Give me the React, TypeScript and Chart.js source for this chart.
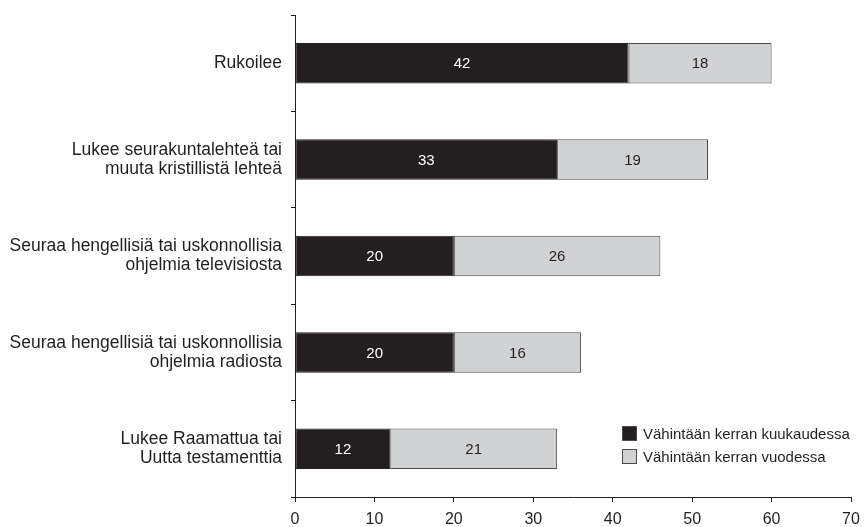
import React, { useEffect, useRef } from "react";
import { Chart, registerables } from "chart.js";

Chart.register(...registerables);

const categories: string[][] = [
  ["Rukoilee"],
  ["Lukee seurakuntalehteä tai", "muuta kristillistä lehteä"],
  ["Seuraa hengellisiä tai uskonnollisia", "ohjelmia televisiosta"],
  ["Seuraa hengellisiä tai uskonnollisia", "ohjelmia radiosta"],
  ["Lukee Raamattua tai", "Uutta testamenttia"],
];
const monthly: number[] = [42, 33, 20, 20, 12];
const yearly: number[] = [18, 19, 26, 16, 21];
const seriesNames: string[] = ["Vähintään kerran kuukaudessa", "Vähintään kerran vuodessa"];
const xTicks: number[] = [0, 10, 20, 30, 40, 50, 60, 70];

const TEXT = "#231f20";
const DARK = "#231f20";
const LIGHT = "#d1d2d4";
const EDGE = "#4a4a4a";
const FONT = "'Liberation Sans', Arial, sans-serif";

const valueLabels = {
  id: "valueLabels",
  afterDatasetsDraw(chart: any) {
    const ctx = chart.ctx;
    ctx.save();
    ctx.font = `15px ${FONT}`;
    ctx.textAlign = "center";
    ctx.textBaseline = "middle";
    chart.data.datasets.forEach((ds: any, di: number) => {
      const meta = chart.getDatasetMeta(di);
      meta.data.forEach((bar: any, i: number) => {
        const x = (bar.x + bar.base) / 2;
        ctx.fillStyle = di === 0 ? "#ffffff" : TEXT;
        ctx.fillText(String(ds.data[i]), x, bar.y + 1);
      });
    });
    ctx.restore();
  },
};

const insideLegend = {
  id: "insideLegend",
  afterDraw(chart: any) {
    const ctx = chart.ctx;
    const area = chart.chartArea;
    ctx.save();
    ctx.font = `15px ${FONT}`;
    ctx.textBaseline = "middle";
    ctx.textAlign = "left";
    const x0 = area.left + 327;
    const y0 = area.top + 419;
    chart.data.datasets.forEach((ds: any, i: number) => {
      const y = y0 + i * 23;
      ctx.fillStyle = ds.backgroundColor;
      ctx.fillRect(x0, y - 8, 15, 15);
      ctx.strokeStyle = EDGE;
      ctx.lineWidth = 1;
      ctx.strokeRect(x0 + 0.5, y - 7.5, 14, 14);
      ctx.fillStyle = TEXT;
      ctx.fillText(ds.label, x0 + 21, y + 1);
    });
    ctx.restore();
  },
};

export default function App() {
  const ref = useRef<HTMLCanvasElement | null>(null);
  useEffect(() => {
    if (!ref.current) return;
    const chart = new Chart(ref.current, {
      type: "bar",
      data: {
        labels: categories,
        datasets: [
          {
            label: seriesNames[0],
            data: monthly,
            backgroundColor: DARK,
            borderColor: DARK,
            borderWidth: 1,
            borderSkipped: false,
            barPercentage: 0.84,
            categoryPercentage: 0.5,
          },
          {
            label: seriesNames[1],
            data: yearly,
            backgroundColor: LIGHT,
            borderColor: EDGE,
            borderWidth: 1,
            borderSkipped: false,
            barPercentage: 0.84,
            categoryPercentage: 0.5,
          },
        ],
      },
      options: {
        indexAxis: "y",
        animation: false,
        responsive: false,
        maintainAspectRatio: false,
        layout: { padding: { top: 15, right: 14, left: 0, bottom: 0 } },
        plugins: {
          legend: { display: false },
          tooltip: { enabled: false },
        },
        scales: {
          x: {
            stacked: true,
            min: 0,
            max: 70,
            afterBuildTicks: (s: any) => {
              s.ticks = xTicks.map((v) => ({ value: v }));
            },
            afterFit: (s: any) => {
              s.height = 30;
              s.paddingLeft = 0;
              s.paddingRight = 0;
            },
            grid: {
              drawOnChartArea: false,
              drawTicks: true,
              tickLength: 5,
              color: TEXT,
            },
            border: { display: true, color: TEXT, width: 1 },
            ticks: {
              color: TEXT,
              font: { size: 16, family: FONT, lineHeight: 1.2 },
              padding: 8,
              maxRotation: 0,
              autoSkip: false,
            },
          },
          y: {
            stacked: true,
            afterFit: (s: any) => {
              s.width = 295;
              s.paddingTop = 0;
              s.paddingBottom = 0;
            },
            grid: {
              offset: true,
              drawOnChartArea: false,
              drawTicks: true,
              tickLength: 4,
              color: TEXT,
            },
            border: { display: true, color: TEXT, width: 1 },
            ticks: {
              color: TEXT,
              font: { size: 17.5, family: FONT, lineHeight: 1.1 },
              padding: 9,
              autoSkip: false,
            },
          },
        },
      },
      plugins: [valueLabels, insideLegend],
    });
    return () => chart.destroy();
  }, []);
  return (
    <div style={{ position: "fixed", left: 0, top: 0, width: 865, height: 527, background: "#fff" }}>
      <canvas ref={ref} width={865} height={527} style={{ display: "block" }} />
    </div>
  );
}
